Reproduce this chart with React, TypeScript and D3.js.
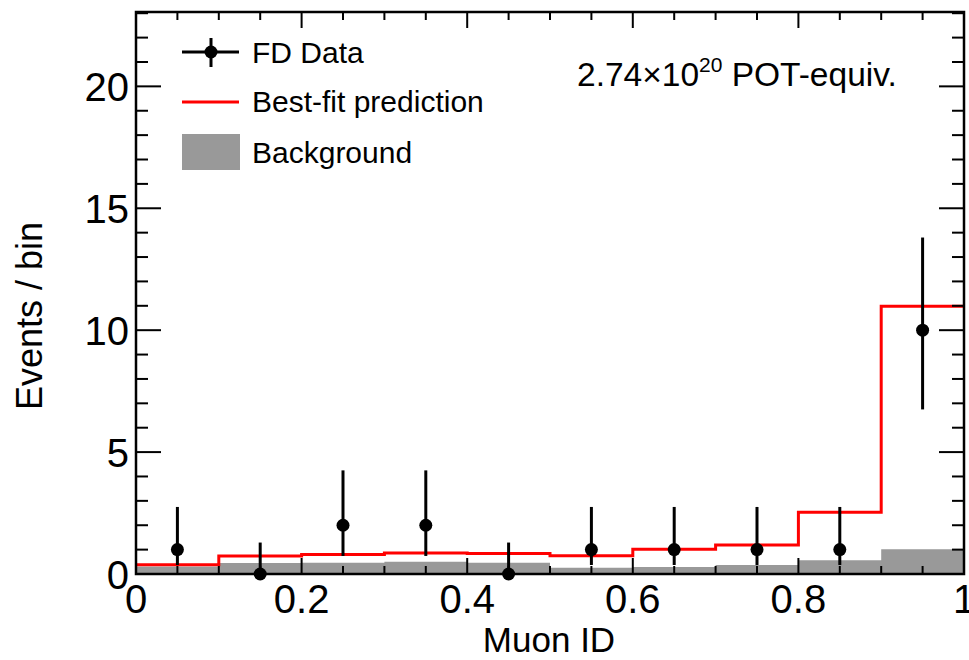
import React from "react";
import * as d3 from "d3";

const binEdges = [0, 0.1, 0.2, 0.3, 0.4, 0.5, 0.6, 0.7, 0.8, 0.9, 1.0];
const dataCounts = [1, 0, 2, 2, 0, 1, 1, 1, 1, 10];
const dataErrLow = [0.37, 0, 0.74, 0.74, 0, 0.37, 0.37, 0.37, 0.37, 6.75];
const dataErrHigh = [2.75, 1.29, 4.25, 4.25, 1.29, 2.75, 2.75, 2.75, 2.75, 13.8];
const prediction = [0.38, 0.74, 0.8, 0.86, 0.84, 0.75, 1.01, 1.19, 2.53, 10.98];
const background = [0.31, 0.45, 0.46, 0.5, 0.46, 0.26, 0.29, 0.37, 0.56, 1.01];
const xTickLabels = ["0", "0.2", "0.4", "0.6", "0.8", "1"];
const yTickLabels = ["0", "5", "10", "15", "20"];

const W = 969;
const H = 660;
const L = 136, R = 964, T = 12, B = 574;
const FONT = "'Liberation Sans', Arial, Helvetica, sans-serif";

export default function App() {
  const x = d3.scaleLinear().domain([0, 1]).range([L, R]);
  const y = d3.scaleLinear().domain([0, 23.05]).range([B, T]);

  const centers = dataCounts.map((_, i) => (binEdges[i] + binEdges[i + 1]) / 2);

  const stepPts: [number, number][] = [];
  prediction.forEach((v, i) => {
    stepPts.push([binEdges[i], v]);
    stepPts.push([binEdges[i + 1], v]);
  });
  const line = d3.line<[number, number]>().x((d) => x(d[0])).y((d) => y(d[1]));
  const bgPts: [number, number][] = [];
  background.forEach((v, i) => {
    bgPts.push([binEdges[i], v]);
    bgPts.push([binEdges[i + 1], v]);
  });
  const area = d3
    .area<[number, number]>()
    .x((d) => x(d[0]))
    .y0(y(0))
    .y1((d) => y(d[1]));

  const xTicks = d3.range(0, 21).map((k) => k * 0.05);
  const yTicks = d3.range(0, 24);

  return (
    <svg
      width={W}
      height={H}
      style={{ position: "absolute", left: 0, top: 0, background: "#fff" }}
      fontFamily={FONT}
    >
      <rect x={0} y={0} width={W} height={H} fill="#fff" />
      <path d={area(bgPts) || ""} fill="#999999" />
      <path d={line(stepPts) || ""} fill="none" stroke="#ff0000" strokeWidth={3} />
      {dataCounts.map((v, i) => (
        <g key={i}>
          <line
            x1={x(centers[i])}
            x2={x(centers[i])}
            y1={y(dataErrLow[i])}
            y2={y(dataErrHigh[i])}
            stroke="#000"
            strokeWidth={3}
          />
          <circle cx={x(centers[i])} cy={y(v)} r={6.5} fill="#000" />
        </g>
      ))}

      {xTicks.map((t, i) => {
        const major = i % 4 === 0;
        const len = major ? 16 : 8;
        return (
          <g key={"xt" + i}>
            <line x1={x(t)} x2={x(t)} y1={B} y2={B - len} stroke="#000" strokeWidth={2} />
            <line x1={x(t)} x2={x(t)} y1={T} y2={T + len} stroke="#000" strokeWidth={2} />
          </g>
        );
      })}
      {yTicks.map((t) => {
        const major = t % 5 === 0;
        const len = major ? 25 : 12;
        return (
          <g key={"yt" + t}>
            <line x1={L} x2={L + len} y1={y(t)} y2={y(t)} stroke="#000" strokeWidth={2} />
            <line x1={R} x2={R - len} y1={y(t)} y2={y(t)} stroke="#000" strokeWidth={2} />
          </g>
        );
      })}
      <rect x={L} y={T} width={R - L} height={B - T} fill="none" stroke="#000" strokeWidth={2.5} />

      {xTickLabels.map((s, i) => (
        <text key={"xl" + i} x={x(i * 0.2)} y={613} fontSize={40} textAnchor="middle">
          {s}
        </text>
      ))}
      {yTickLabels.map((s, i) => (
        <text key={"yl" + i} x={129} y={y(i * 5) + 14.5} fontSize={40} textAnchor="end">
          {s}
        </text>
      ))}

      <text x={549} y={652} fontSize={35} textAnchor="middle">
        Muon ID
      </text>
      <text transform="translate(42,316) rotate(-90)" fontSize={36} textAnchor="middle">
        Events / bin
      </text>

      <line x1={182} x2={239} y1={52} y2={52} stroke="#000" strokeWidth={3} />
      <line x1={211} x2={211} y1={38} y2={67} stroke="#000" strokeWidth={3} />
      <circle cx={211} cy={52} r={6.5} fill="#000" />
      <text x={252} y={63} fontSize={30}>FD Data</text>
      <line x1={182} x2={239} y1={102} y2={102} stroke="#ff0000" strokeWidth={3} />
      <text x={252} y={112} fontSize={30}>Best-fit prediction</text>
      <rect x={182} y={134} width={58} height={36} fill="#999999" />
      <text x={252} y={163} fontSize={30}>Background</text>

      <text x={577} y={86} fontSize={33.5}>
        2.74×10
        <tspan fontSize={21} dy={-14}>20</tspan>
        <tspan dy={14}> POT-equiv.</tspan>
      </text>
    </svg>
  );
}
